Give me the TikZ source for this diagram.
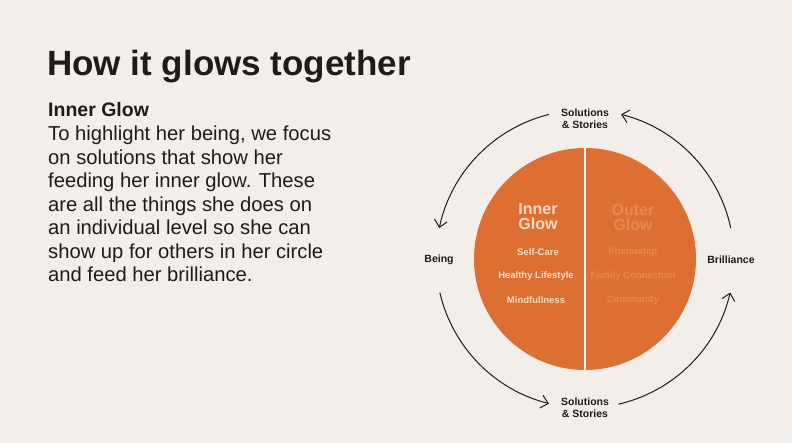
\documentclass[tikz,border=0pt]{standalone}
\usepackage{fontspec}
\setmainfont{Liberation Sans}
\usetikzlibrary{arrows.meta}
\definecolor{paper}{HTML}{F3EEEA}
\definecolor{ink}{HTML}{1F1B18}
\definecolor{glow}{HTML}{DD6F32}
\definecolor{cream}{HTML}{F8DCC8}
\definecolor{ember}{HTML}{E8874F}

\begin{document}
\begin{tikzpicture}[
            x=1pt, y=1pt,
            every node/.style={inner sep=0pt, text=ink},
            ringtext/.style={font=\fontsize{10.5}{12.5}\selectfont\bfseries, align=center},
            item/.style={font=\fontsize{9.5}{11}\selectfont\bfseries},
            loop arrow/.style={-{Straight Barb[length=7pt, width=13pt]}, line width=1pt, draw=ink}
      ]
      \fill[paper] (0,0) rectangle (792,443);
      \useasboundingbox (0,0) rectangle (792,443);

      % Left column
      \node[anchor=base west, font=\fontsize{35}{40}\selectfont\bfseries] (title) at (47,367) {How it glows together};
      \node[anchor=base west, font=\fontsize{19.5}{23}\selectfont\bfseries] (heading) at (48,326) {Inner Glow};
      \node[anchor=north west, align=left, font=\fontsize{20.2}{23.5}\selectfont] (body) at (48,317)
            {To highlight her being, we focus\\on solutions that show her\\feeding her inner glow. These\\are all the things she does on\\an individual level so she can\\show up for others in her circle\\and feed her brilliance.};

      % Circle
      \node[circle, fill=glow, minimum size=222pt] (core) at (585,184) {};
      \draw[white, line width=1.5pt] (core.north) -- (core.south);

      \node[font=\fontsize{16}{15}\selectfont\bfseries, align=center, text=cream] (inner) at (538,226) {Inner\\Glow};
      \node[item, text=cream] (care) at (538,191) {Self-Care};
      \node[item, text=cream] (life) at (536,167) {Healthy Lifestyle};
      \node[item, text=cream] (mind) at (536,143) {Mindfullness};

      \node[font=\fontsize{16}{15}\selectfont\bfseries, align=center, text=ember] (outer) at (633,226) {Outer\\Glow};
      \node[item, text=ember] (friend) at (633,191) {Friendship};
      \node[item, text=ember] (family) at (633,167) {Family Connection};
      \node[item, text=ember] (comm) at (633,143) {Community};

      % Ring labels
      \node[ringtext] (top) at (585,324) {Solutions\\\& Stories};
      \node[ringtext] (bottom) at (585,35) {Solutions\\\& Stories};
      \node[ringtext] (being) at (439,183) {Being};
      \node[ringtext] (bril) at (731,183) {Brilliance};

      % Ring arrows
      \draw[loop arrow] ([shift={(104:149)}]core.center) arc[start angle=104, end angle=168, radius=149];
      \draw[loop arrow] ([shift={(12:149)}]core.center) arc[start angle=12, end angle=76, radius=149];
      \draw[loop arrow] ([shift={(193:149)}]core.center) arc[start angle=193, end angle=256, radius=149];
      \draw[loop arrow] ([shift={(283:149)}]core.center) arc[start angle=283, end angle=347, radius=149];
\end{tikzpicture}
\end{document}
